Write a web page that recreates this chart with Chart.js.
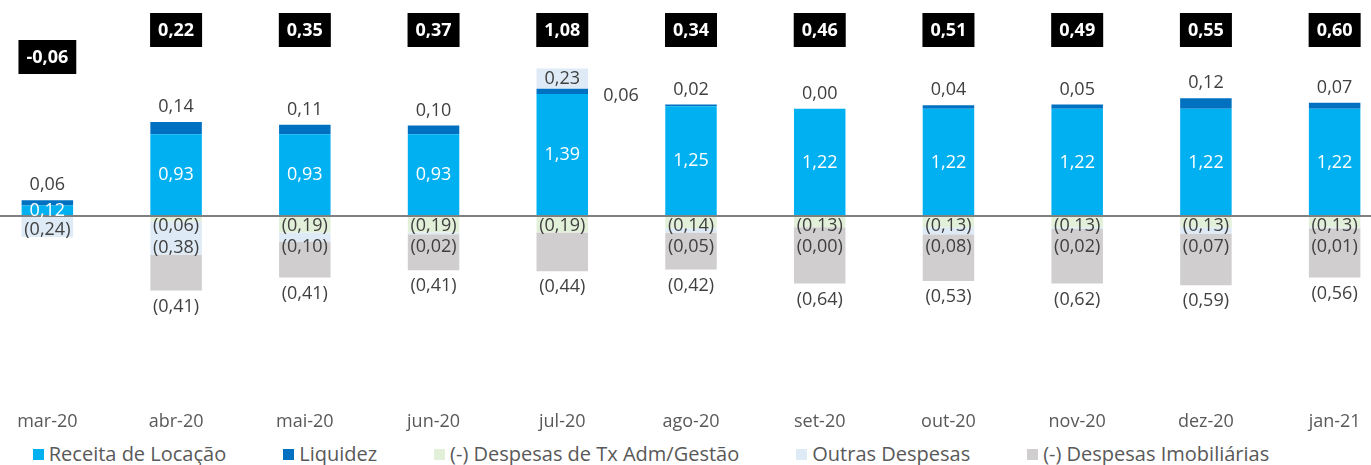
<!DOCTYPE html>
<html>
<head>
<meta charset="utf-8">
<script src="https://cdn.jsdelivr.net/npm/chart.js@4.4.1/dist/chart.umd.min.js"></script>
<style>
  html, body { margin: 0; padding: 0; background: #fff; overflow: hidden; }
  body { width: 1371px; height: 465px; position: relative; font-family: "Open Sans", sans-serif; }
  #wrap { position: absolute; left: -17px; top: 0; width: 1416px; height: 437px; }
  #legend { position: absolute; left: 0; top: 441px; width: 1302px; height: 26px;
            display: flex; justify-content: center; align-items: center; gap: 57px;
            font-size: 20px; color: #595959; line-height: 26px; white-space: nowrap; }
  #legend span.item { display: flex; align-items: center; }
  #legend span.box { width: 11px; height: 11px; margin-right: 5px; display: inline-block; }
</style>
</head>
<body>
<div id="wrap"><canvas id="canvas"></canvas></div>
<div id="legend"></div>
<script>
const labels = ['mar-20', 'abr-20', 'mai-20', 'jun-20', 'jul-20', 'ago-20', 'set-20', 'out-20', 'nov-20', 'dez-20', 'jan-21'];
const receita = [0.12, 0.93, 0.93, 0.93, 1.39, 1.25, 1.22, 1.22, 1.22, 1.22, 1.22];
const liquidez = [0.06, 0.14, 0.11, 0.10, 0.06, 0.02, 0.00, 0.04, 0.05, 0.12, 0.07];
const txAdm = [null, -0.06, -0.19, -0.19, -0.19, -0.14, -0.13, -0.13, -0.13, -0.13, -0.13];
const outras = [-0.24, -0.38, -0.10, -0.02, 0.23, -0.05, -0.00, -0.08, -0.02, -0.07, -0.01];
const imobiliarias = [null, -0.41, -0.41, -0.41, -0.44, -0.42, -0.64, -0.53, -0.62, -0.59, -0.56];
const totals = [-0.06, 0.22, 0.35, 0.37, 1.08, 0.34, 0.46, 0.51, 0.49, 0.55, 0.60];

const FONT = '"Open Sans", sans-serif';
const isNeg = v => v < 0 || Object.is(v, -0);
const fmt = v => {
    const s = Math.abs(v).toFixed(2).replace('.', ',');
    return isNeg(v) ? '(' + s + ')' : s;
};

function bar(label, values, color) {
    return {
        label: label,
        data: values,
        backgroundColor: color,
        borderWidth: 0,
        stack: 's',
        categoryPercentage: 1,
        barPercentage: 0.4
    };
}

const data = {
    labels: labels,
    datasets: [
        bar('Receita de Locação', receita, '#00b0f0'),
        bar('Liquidez', liquidez, '#0070c0'),
        bar('(-) Despesas de Tx Adm/Gestão', txAdm, '#e2f0d9'),
        bar('Outras Despesas', outras, '#deebf7'),
        bar('(-) Despesas Imobiliárias', imobiliarias, '#d0cece')
    ]
};

// zero line, value labels and black total boxes
const labelPlugin = {
    id: 'labelPlugin',
    afterDatasetsDraw(chart) {
        const ctx = chart.ctx;
        const area = chart.chartArea;
        const y0 = chart.scales.y.getPixelForValue(0);
        ctx.save();
        ctx.strokeStyle = '#808080';
        ctx.lineWidth = 2;
        ctx.beginPath();
        ctx.moveTo(area.left, y0);
        ctx.lineTo(area.right, y0);
        ctx.stroke();

        ctx.font = '18px ' + FONT;
        ctx.textAlign = 'center';
        ctx.textBaseline = 'middle';
        const metas = [0, 1, 2, 3, 4].map(i => chart.getDatasetMeta(i).data);
        labels.forEach((lab, j) => {
            const r = metas[0][j], l = metas[1][j], g = metas[2][j], o = metas[3][j], im = metas[4][j];
            // receita
            ctx.fillStyle = '#ffffff';
            ctx.fillText(fmt(receita[j]), r.x, (r.y + r.base) / 2);
            ctx.fillStyle = '#404040';
            // liquidez
            if (outras[j] > 0) {
                ctx.fillText(fmt(liquidez[j]), l.x + l.width / 2 + 33, (l.y + l.base) / 2 + 5);
            } else {
                ctx.fillText(fmt(liquidez[j]), l.x, l.y - 15);
            }
            // tx adm
            let prev = -Infinity;
            if (txAdm[j] !== null) {
                prev = y0 + 10;
                ctx.fillText(fmt(txAdm[j]), g.x, prev);
            }
            // outras
            if (outras[j] > 0) {
                ctx.fillText(fmt(outras[j]), o.x, (o.y + o.base) / 2);
            } else {
                ctx.fillText(fmt(outras[j]), o.x, Math.max(o.y - 7, prev + 21));
            }
            // imobiliarias
            if (imobiliarias[j] !== null) {
                ctx.fillText(fmt(imobiliarias[j]), im.x, im.y + 16);
            }
        });

        // total boxes
        ctx.font = 'bold 18px ' + FONT;
        totals.forEach((t, j) => {
            const x = metas[0][j].x;
            const y = area.top + 30 + (t < 0 ? 27 : 0);
            const txt = t.toFixed(2).replace('.', ',');
            const w = ctx.measureText(txt).width + 16;
            ctx.fillStyle = '#000000';
            ctx.fillRect(x - w / 2, y - 17, w, 34);
            ctx.fillStyle = '#ffffff';
            ctx.fillText(txt, x, y + 1);
        });
        ctx.restore();
    }
};

const config = {
    type: 'bar',
    data: data,
    options: {
        responsive: true,
        maintainAspectRatio: false,
        animation: false,
        layout: { padding: 0 },
        plugins: {
            legend: { display: false },
            tooltip: { enabled: false }
        },
        scales: {
            x: {
                stacked: true,
                grid: { display: false },
                border: { display: false },
                ticks: { color: '#595959', font: { size: 18, family: FONT }, padding: 4, maxRotation: 0, autoSkip: false }
            },
            y: {
                stacked: true,
                display: false,
                min: -2.09,
                max: 2.46
            }
        }
    },
    plugins: [labelPlugin]
};

const canvas = document.getElementById('canvas');
const chart = new Chart(canvas, config);

// html legend built from the datasets
const legend = document.getElementById('legend');
chart.data.datasets.forEach(ds => {
    const item = document.createElement('span');
    item.className = 'item';
    const box = document.createElement('span');
    box.className = 'box';
    box.style.background = ds.backgroundColor;
    item.appendChild(box);
    item.appendChild(document.createTextNode(ds.label));
    legend.appendChild(item);
});
</script>
</body>
</html>
